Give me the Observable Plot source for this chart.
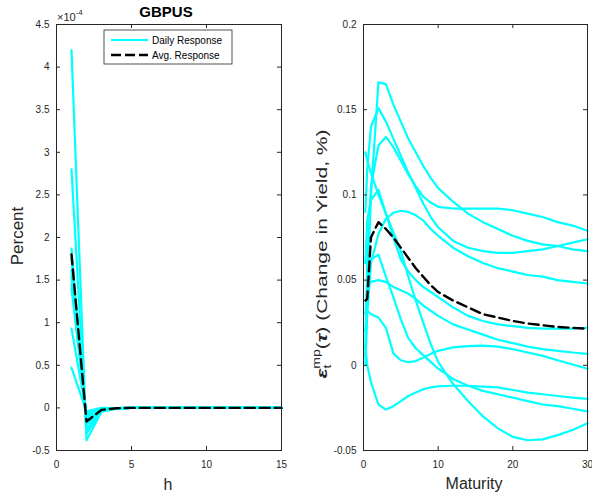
<!DOCTYPE html>
<html><head><meta charset="utf-8">
<script src="https://cdn.jsdelivr.net/npm/d3@7"></script>
<script src="https://cdn.jsdelivr.net/npm/@observablehq/plot@0.6"></script>
<style>
body{margin:0;background:#fff;}
#wrap{position:relative;width:592px;height:498px;background:#fff;font-family:"Liberation Sans",Arial,sans-serif;}
#wrap svg{position:absolute;top:0;overflow:visible;}
</style></head><body><div id="wrap"></div>
<script>
// ---------- Left panel data (units of 1e-4 percent) ----------
const horizons = [1,2,3,4,5,6,7,8,9,10,11,12,13,14,15];
const dailyResponse = [
  [4.20,-0.38,-0.045,-0.010,0,0,0,0,0,0,0,0,0,0,0],
  [2.80,-0.30,-0.040,-0.008,0,0,0,0,0,0,0,0,0,0,0],
  [1.87,-0.25,-0.035,-0.006,0,0,0,0,0,0,0,0,0,0,0],
  [1.75,-0.20,-0.030,-0.005,0,0,0,0,0,0,0,0,0,0,0],
  [1.62,-0.15,-0.025,-0.004,0,0,0,0,0,0,0,0,0,0,0],
  [1.55,-0.12,-0.020,-0.003,0,0,0,0,0,0,0,0,0,0,0],
  [1.45,-0.10,-0.015,-0.002,0,0,0,0,0,0,0,0,0,0,0],
  [1.40,-0.08,-0.010,-0.002,0,0,0,0,0,0,0,0,0,0,0],
  [0.93,-0.06,-0.005,-0.001,0,0,0,0,0,0,0,0,0,0,0],
  [0.47,-0.04, 0.000,-0.001,0,0,0,0,0,0,0,0,0,0,0]
];
const avgResponse = [1.80,-0.16,-0.023,-0.004,0,0,0,0,0,0,0,0,0,0,0];
const leftXTicks = [0,5,10,15];
const leftYTicks = [-0.5,0,0.5,1,1.5,2,2.5,3,3.5,4,4.5];

// ---------- Right panel data (change in yield, %) ----------
const maturities = [0.25,0.5,1,2,3,4,5,6,7,8,9,10,12,14,16,18,20,22,24,26,28,30];
const yieldDaily = [
  [0.005,0.040,0.100,0.166,0.165,0.153,0.143,0.133,0.125,0.117,0.110,0.104,0.096,0.089,0.084,0.080,0.076,0.073,0.071,0.070,0.068,0.067],
  [0.090,0.115,0.140,0.151,0.143,0.133,0.123,0.113,0.104,0.095,0.087,0.081,0.073,0.069,0.067,0.066,0.066,0.067,0.068,0.070,0.072,0.074],
  [0.010,0.060,0.105,0.129,0.134,0.128,0.120,0.112,0.105,0.099,0.0955,0.093,0.092,0.092,0.092,0.092,0.091,0.089,0.087,0.084,0.082,0.079],
  [0.125,0.120,0.113,0.100,0.089,0.078,0.067,0.052,0.038,0.025,0.0125,0.002,-0.011,-0.021,-0.030,-0.037,-0.042,-0.044,-0.0435,-0.041,-0.038,-0.034],
  [0.060,0.085,0.097,0.103,0.089,0.075,0.062,0.055,0.050,0.046,0.043,0.040,0.034,0.029,0.026,0.024,0.023,0.022,0.0215,0.0215,0.0215,0.022],
  [0.000,0.030,0.060,0.077,0.086,0.0895,0.0907,0.090,0.088,0.085,0.080,0.076,0.069,0.064,0.060,0.057,0.055,0.053,0.052,0.050,0.049,0.048],
  [0.060,0.060,0.062,0.065,0.052,0.040,0.027,0.016,0.010,0.006,0.002,-0.002,-0.008,-0.012,-0.015,-0.017,-0.019,-0.021,-0.023,-0.024,-0.0255,-0.027],
  [0.030,0.044,0.049,0.050,0.049,0.046,0.044,0.042,0.039,0.035,0.032,0.029,0.024,0.021,0.018,0.015,0.013,0.011,0.0095,0.0085,0.0075,0.0067],
  [0.020,0.032,0.030,0.028,0.022,0.007,0.003,0.0018,0.0025,0.0045,0.0067,0.0085,0.0105,0.0113,0.0115,0.011,0.0095,0.0075,0.0055,0.003,0.0005,-0.002],
  [0.011,0.000,-0.010,-0.023,-0.026,-0.024,-0.021,-0.018,-0.016,-0.014,-0.013,-0.0123,-0.012,-0.012,-0.0125,-0.013,-0.0145,-0.016,-0.017,-0.018,-0.019,-0.0197]
];
const yieldAvg = [0.038,0.039,0.075,0.084,0.080,0.075,0.069,0.063,0.057,0.052,0.047,0.043,0.038,0.034,0.030,0.028,0.026,0.0245,0.0235,0.0225,0.022,0.0215];
const rightXTicks = [0,10,20,30];
const rightYTicks = [-0.05,0,0.05,0.1,0.15,0.2];

const AX = "#262626";
const CYAN = "#00FFFF";

function panel({W, mL, mR, mT, mB, xDomain, yDomain, xTicks, yTicks, xs, series, avg}) {
  const H = 498;
  const pw = W - mL - mR, ph = H - mT - mB, tl = 4;
  const rows = series.flatMap((s, i) => s.map((v, j) => ({x: xs[j], v, id: i})));
  const avgRows = avg.map((v, j) => ({x: xs[j], v}));
  return Plot.plot({
    width: W, height: H,
    marginLeft: mL, marginRight: mR, marginTop: mT, marginBottom: mB,
    x: {domain: xDomain},
    y: {domain: yDomain},
    style: {fontFamily: '"Liberation Sans", Arial, sans-serif', fontSize: "10px", color: AX, background: "transparent", overflow: "visible"},
    marks: [
      Plot.line(rows, {x: "x", y: "v", z: "id", stroke: CYAN, strokeWidth: 2.2}),
      Plot.line(avgRows, {x: "x", y: "v", stroke: "black", strokeWidth: 2.4, strokeDasharray: "10,5"}),
      Plot.frame({stroke: AX, strokeWidth: 1}),
      Plot.tickX(xTicks, {x: d => d, insetBottom: ph - tl, stroke: AX}),
      Plot.tickX(xTicks, {x: d => d, insetTop: ph - tl, stroke: AX}),
      Plot.tickY(yTicks, {y: d => d, insetRight: pw - tl, stroke: AX}),
      Plot.tickY(yTicks, {y: d => d, insetLeft: pw - tl, stroke: AX}),
      Plot.axisX(xTicks, {tickSize: 0, tickPadding: 10, label: null, tickFormat: d => String(d), fill: AX}),
      Plot.axisY(yTicks, {tickSize: 0, tickPadding: 7, label: null, tickFormat: d => String(d), fill: AX})
    ]
  });
}

const wrap = document.getElementById("wrap");

const left = panel({W: 296, mL: 56, mR: 15, mT: 24, mB: 48, xDomain: [0, 15], yDomain: [-0.5, 4.5],
  xTicks: leftXTicks, yTicks: leftYTicks, xs: horizons, series: dailyResponse, avg: avgResponse});
left.style.left = "0px";
wrap.appendChild(left);

const right = panel({W: 296, mL: 67, mR: 5, mT: 24, mB: 48, xDomain: [0, 30], yDomain: [-0.05, 0.2],
  xTicks: rightXTicks, yTicks: rightYTicks, xs: maturities, series: yieldDaily, avg: yieldAvg});
right.style.left = "296px";
wrap.appendChild(right);

// ---------- Texts for left panel ----------
const L = d3.select(left);
const font = '"Liberation Sans", Arial, sans-serif';
L.append("text").attr("x", 166).attr("y", 17).attr("text-anchor", "middle")
  .style("font", `bold 15px ${font}`).attr("fill", "#000").text("GBPUS");
const ex = L.append("text").attr("x", 57).attr("y", 21).attr("text-anchor", "start")
  .style("font", `11px ${font}`).attr("fill", AX);
ex.append("tspan").text("×10");
ex.append("tspan").attr("dy", -6).style("font-size", "8px").text("-4");
L.append("text").attr("transform", "translate(23,236) rotate(-90)").attr("text-anchor", "middle")
  .style("font", `17px ${font}`).attr("fill", AX).text("Percent");
L.append("text").attr("x", 168).attr("y", 490).attr("text-anchor", "middle")
  .style("font", `16px ${font}`).attr("fill", AX).text("h");

// legend
const lg = L.append("g");
lg.append("rect").attr("x", 104).attr("y", 30).attr("width", 128).attr("height", 34)
  .attr("fill", "white").attr("stroke", AX).attr("stroke-width", 0.8);
lg.append("line").attr("x1", 111).attr("x2", 148).attr("y1", 40).attr("y2", 40)
  .attr("stroke", CYAN).attr("stroke-width", 2.2);
lg.append("line").attr("x1", 111).attr("x2", 148).attr("y1", 55).attr("y2", 55)
  .attr("stroke", "black").attr("stroke-width", 2.4).attr("stroke-dasharray", "10,4");
lg.append("text").attr("x", 152).attr("y", 44).attr("text-anchor", "start")
  .style("font", `10px ${font}`).attr("fill", "#000").text("Daily Response");
lg.append("text").attr("x", 152).attr("y", 59).attr("text-anchor", "start")
  .style("font", `10px ${font}`).attr("fill", "#000").text("Avg. Response");

// ---------- Texts for right panel ----------
const R = d3.select(right);
R.append("text").attr("x", 474 - 296).attr("y", 489).attr("text-anchor", "middle")
  .style("font", `16px ${font}`).attr("fill", AX).text("Maturity");
const yl = R.append("text").attr("transform", `translate(${327 - 296},254) rotate(-90) scale(1.4,1)`)
  .attr("text-anchor", "middle").style("font", `15px ${font}`).attr("fill", AX);
yl.append("tspan").style("font-weight", "bold").style("font-style", "italic").text("ε");
yl.append("tspan").attr("dy", 4).style("font-size", "10px").text("t");
yl.append("tspan").attr("dx", -3).attr("dy", -11).style("font-size", "10px").text("mp");
yl.append("tspan").attr("dy", 7).text("(");
yl.append("tspan").style("font-weight", "bold").style("font-style", "italic").text("τ");
yl.append("tspan").text(") (Change in Yield, %)");
</script>
</body></html>
